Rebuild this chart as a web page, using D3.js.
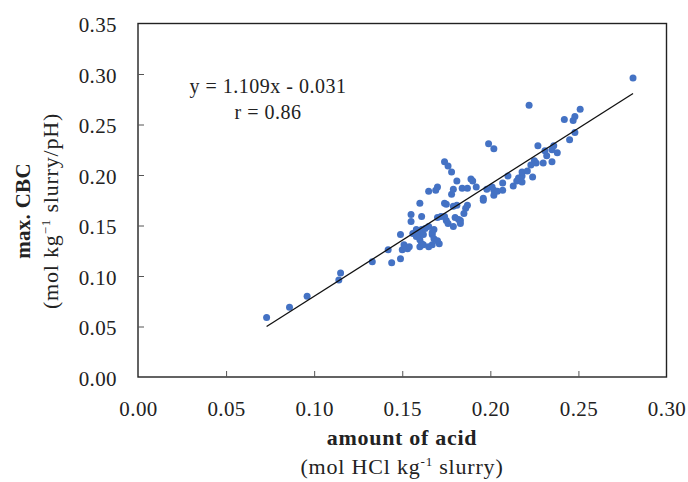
<!DOCTYPE html>
<html>
<head>
<meta charset="utf-8">
<script src="https://cdn.jsdelivr.net/npm/d3@7"></script>
<style>
  body { margin: 0; background: #fff; }
  text { font-family: "Liberation Serif", "Times New Roman", serif; fill: #222; }
</style>
</head>
<body>
<svg width="688" height="482"></svg>
<script>
// data
var acid = [0.073,0.086,0.096,0.114,0.115,0.133,0.142,0.144,0.149,0.150,0.151,0.153,0.154,0.149,0.156,0.158,0.158,0.160,0.160,0.160,
  0.161,0.162,0.162,0.161,0.165,0.165,0.163,0.167,0.167,0.167,0.168,0.168,0.171,0.170,0.155,0.155,0.161,0.160,0.165,0.170,
  0.169,0.172,0.174,0.175,0.176,0.179,0.182,0.183,0.183,0.174,0.175,0.179,0.181,0.187,0.186,0.185,0.170,0.180,0.174,0.176,
  0.178,0.178,0.179,0.181,0.184,0.187,0.189,0.190,0.192,0.196,0.196,0.198,0.199,0.202,0.201,0.202,0.202,0.204,0.207,0.207,
  0.210,0.213,0.215,0.216,0.218,0.218,0.218,0.221,0.222,0.223,0.224,0.225,0.226,0.227,0.230,0.231,0.232,0.235,0.235,0.236,
  0.238,0.242,0.245,0.247,0.248,0.248,0.251,0.281];
var cbc = [0.059,0.069,0.080,0.096,0.103,0.114,0.126,0.113,0.117,0.126,0.131,0.127,0.129,0.141,0.142,0.139,0.146,0.129,0.136,0.141,
  0.132,0.131,0.141,0.146,0.129,0.149,0.147,0.131,0.141,0.143,0.137,0.146,0.132,0.135,0.161,0.154,0.159,0.172,0.184,0.188,
  0.185,0.159,0.159,0.155,0.152,0.149,0.156,0.155,0.152,0.172,0.171,0.169,0.170,0.170,0.167,0.162,0.158,0.158,0.213,0.209,
  0.203,0.181,0.186,0.194,0.187,0.187,0.196,0.194,0.188,0.177,0.175,0.186,0.231,0.226,0.188,0.185,0.180,0.184,0.192,0.185,
  0.199,0.189,0.194,0.197,0.199,0.203,0.193,0.204,0.269,0.210,0.198,0.214,0.212,0.229,0.212,0.224,0.219,0.225,0.213,0.229,
  0.222,0.255,0.235,0.254,0.242,0.258,0.265,0.296];
var xTicks = [0, 0.05, 0.10, 0.15, 0.20, 0.25, 0.30];
var yTicks = [0, 0.05, 0.10, 0.15, 0.20, 0.25, 0.30, 0.35];
var slope = 1.109, intercept = -0.031;
var eqLabel = "y = 1.109x - 0.031", rLabel = "r = 0.86";

var svg = d3.select("svg");
var mLeft = 138, mRight = 666.5, mTop = 23.5, mBottom = 377;

var x = d3.scaleLinear().domain([0, 0.30]).range([mLeft, mRight]);
var y = d3.scaleLinear().domain([0, 0.35]).range([mBottom, mTop]);

// frame
svg.append("rect")
    .attr("x", mLeft).attr("y", mTop)
    .attr("width", mRight - mLeft).attr("height", mBottom - mTop)
    .attr("fill", "none").attr("stroke", "#222").attr("stroke-width", 1.4);

// axes, ticks pointing inward
var xAxis = svg.append("g")
    .attr("transform", "translate(0," + mBottom + ")")
    .call(d3.axisBottom(x).tickValues(xTicks).tickSizeInner(-6).tickSizeOuter(0)
        .tickPadding(24).tickFormat(d3.format(".2f")));
var yAxis = svg.append("g")
    .attr("transform", "translate(" + mLeft + ",0)")
    .call(d3.axisLeft(y).tickValues(yTicks).tickSizeInner(-6).tickSizeOuter(0)
        .tickPadding(21).tickFormat(d3.format(".2f")));
[xAxis, yAxis].forEach(function (a) {
  a.select(".domain").remove();
  a.selectAll("line").attr("stroke", "#555").attr("stroke-width", 1);
  a.selectAll("text").attr("font-size", 21).attr("font-family", "Liberation Serif")
      .attr("letter-spacing", 0.4).attr("fill", "#222");
});
yAxis.selectAll("text").attr("dy", "0.4em");
yAxis.selectAll("line").filter(function (d) { return d === 0 || d === 0.35; }).remove();
xAxis.selectAll("line").filter(function (d) { return d === 0 || d === 0.30; }).remove();

// points
svg.append("g").selectAll("circle")
    .data(d3.zip(acid, cbc))
    .enter().append("circle")
    .attr("cx", function (d) { return x(d[0]); })
    .attr("cy", function (d) { return y(d[1]); })
    .attr("r", 3.5)
    .attr("fill", "#4472c4");

// trend line
var x0 = d3.min(acid), x1 = d3.max(acid);
svg.append("line")
    .attr("x1", x(x0)).attr("y1", y(slope * x0 + intercept))
    .attr("x2", x(x1)).attr("y2", y(slope * x1 + intercept))
    .attr("stroke", "#111").attr("stroke-width", 1.3);

// equation
svg.append("text").attr("x", 268).attr("y", 93).attr("text-anchor", "middle")
    .attr("font-size", 20).attr("letter-spacing", 0.5).text(eqLabel);
svg.append("text").attr("x", 268).attr("y", 119).attr("text-anchor", "middle")
    .attr("font-size", 20).attr("letter-spacing", 0.5).text(rLabel);

// x title
svg.append("text").attr("x", 402).attr("y", 445).attr("text-anchor", "middle")
    .attr("font-size", 22).attr("letter-spacing", 0.7).attr("font-weight", "bold").text("amount of acid");
var xt = svg.append("text").attr("x", 402).attr("y", 474).attr("text-anchor", "middle")
    .attr("font-size", 22).attr("letter-spacing", 0.8);
xt.append("tspan").text("(mol HCl kg");
xt.append("tspan").attr("font-size", 13).attr("dy", -8).text("-1");
xt.append("tspan").attr("dy", 8).text(" slurry)");

// y title
svg.append("text").attr("transform", "translate(30,211) rotate(-90)").attr("text-anchor", "middle")
    .attr("font-size", 21).attr("letter-spacing", 0.3).attr("font-weight", "bold").text("max. CBC");
var yt = svg.append("text").attr("transform", "translate(58,211) rotate(-90)").attr("text-anchor", "middle")
    .attr("font-size", 22).attr("letter-spacing", 0.8);
yt.append("tspan").text("(mol kg");
yt.append("tspan").attr("font-size", 13).attr("dy", -8).text("\u22121");
yt.append("tspan").attr("dy", 8).text(" slurry/pH)");
</script>
</body>
</html>
